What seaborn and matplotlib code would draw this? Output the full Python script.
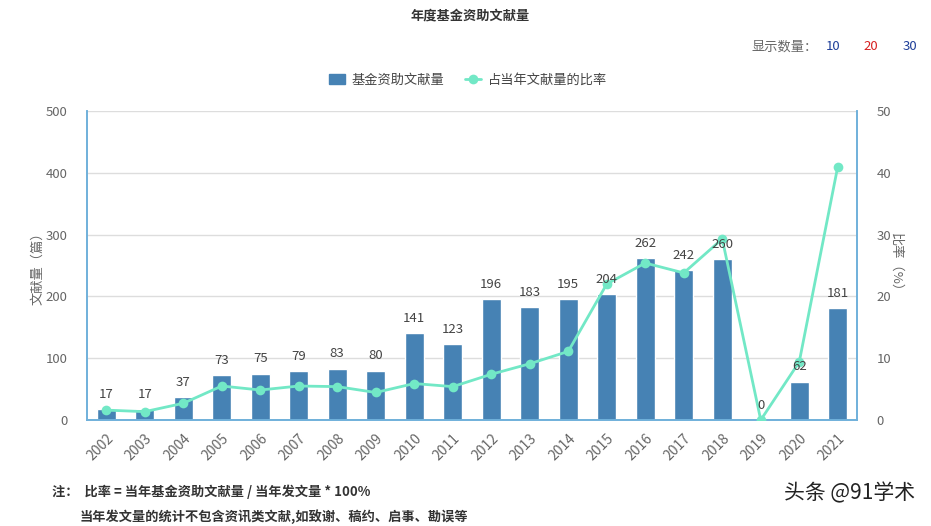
import numpy as np
import pandas as pd
import matplotlib
matplotlib.use("Agg")
import matplotlib.pyplot as plt
import seaborn as sns
from matplotlib.lines import Line2D
from matplotlib.patches import Patch

# 数据
years = [str(y) for y in range(2002, 2022)]
counts = [17, 17, 37, 73, 75, 79, 83, 80, 141, 123,
          196, 183, 195, 204, 262, 242, 260, 0, 62, 181]
ratios = [1.6, 1.35, 2.7, 5.5, 4.85, 5.5, 5.4, 4.45, 5.9, 5.4,
          7.4, 9.1, 11.1, 22.0, 25.4, 23.8, 29.3, 0.0, 9.4, 41.0]

# 颜色
COLOR_BAR = "#4682b4"
COLOR_LINE = "#72e8c6"
COLOR_AXIS = "#6fb0da"
COLOR_TEXT = "#666666"

sns.set_theme(style="white")
plt.rcParams["font.family"] = ["Noto Sans CJK SC", "DejaVu Sans"]

df = pd.DataFrame({"year": years, "count": counts, "ratio": ratios})
df["pos"] = np.arange(len(years))

fig = plt.figure(figsize=(9.31, 5.26), dpi=100)
ax = fig.add_axes([87 / 931, 1 - 420 / 526, 770 / 931, 309 / 526])

sns.barplot(data=df, x="year", y="count", color=COLOR_BAR, width=0.5,
            saturation=1, ax=ax, zorder=2)
ax.set_xlim(-0.5, len(years) - 0.5)
ax.set_ylim(0, 500)
ax.set_yticks(range(0, 501, 100))
ax.grid(axis="y", color="#dddddd", linewidth=1, zorder=0)
ax.set_axisbelow(True)

ax2 = ax.twinx()
sns.lineplot(data=df, x="pos", y="ratio", color=COLOR_LINE, linewidth=2,
             marker="o", markersize=7, markeredgewidth=0, ax=ax2, zorder=3)
ax2.set_ylim(0, 50)
ax2.set_yticks(range(0, 51, 10))
ax2.set_xlim(-0.5, len(years) - 0.5)

# 柱顶数值（画在折线之上）
for i, v in enumerate(counts):
    ax2.annotate(str(v), (i, v), xycoords=ax.transData, xytext=(0, 6),
                 textcoords="offset points", ha="center", va="bottom",
                 fontsize=9.5, color="#444444", zorder=4)

# 坐标轴样式
for a in (ax, ax2):
    a.spines["top"].set_visible(False)
    for side in ("left", "right", "bottom"):
        a.spines[side].set_color(COLOR_AXIS)
        a.spines[side].set_linewidth(1.2)

ax.set_xticks(range(len(years)))
ax.set_xticklabels(years, rotation=45, ha="right", rotation_mode="anchor",
                   fontsize=10, color=COLOR_TEXT)
ax.set_xticks(np.arange(-0.5, len(years), 1), minor=True)
ax.tick_params(axis="x", which="major", length=0, pad=8)
ax.tick_params(axis="x", which="minor", length=6, color=COLOR_AXIS, width=1)
ax.tick_params(axis="y", length=0, labelsize=9.5, labelcolor=COLOR_TEXT, pad=14)
ax2.tick_params(axis="y", length=0, labelsize=9.5, labelcolor=COLOR_TEXT, pad=14)
ax.set_xlabel("")
ax.set_ylabel("文献量（篇）", fontsize=9.5, color=COLOR_TEXT, labelpad=1)
ax2.set_ylabel("比率（%）", fontsize=9.5, color=COLOR_TEXT, rotation=-90,
               labelpad=8)

# 标题与图例
fig.text(470 / 931, 1 - 15 / 526, "年度基金资助文献量", ha="center", va="center",
         fontsize=9.5, color="#333333", fontweight="bold")
fig.text(752 / 931, 1 - 47 / 526, "显示数量：", ha="left", va="center",
         fontsize=9.5, color=COLOR_TEXT)
for x, t, c in [(833, "10", "#1f3f99"), (871, "20", "#d62020"), (910, "30", "#1f3f99")]:
    fig.text(x / 931, 1 - 47 / 526, t, ha="center", va="center", fontsize=9.5, color=c)

handles = [
    Patch(facecolor=COLOR_BAR, edgecolor=COLOR_BAR, label="基金资助文献量"),
    Line2D([0], [0], color=COLOR_LINE, linewidth=2, marker="o", markersize=7,
           markeredgewidth=0, label="占当年文献量的比率"),
]
fig.legend(handles=handles, loc="center", bbox_to_anchor=(468 / 931, 1 - 80 / 526),
           ncol=2, frameon=False, fontsize=9.5, handlelength=1.2,
           handletextpad=0.5, columnspacing=1.6, labelcolor="#444444")

# 注释
fig.text(52 / 931, 1 - 492 / 526, "注：  比率 = 当年基金资助文献量 / 当年发文量 * 100%",
         ha="left", va="center", fontsize=9.5, color="#333333", fontweight="bold")
fig.text(80 / 931, 1 - 517 / 526, "当年发文量的统计不包含资讯类文献,如致谢、稿约、启事、勘误等",
         ha="left", va="center", fontsize=9.5, color="#333333", fontweight="bold")
fig.text(915 / 931, 1 - 493 / 526, "头条 @91学术", ha="right", va="center",
         fontsize=15, color="#222222")

fig.savefig("out.png", dpi=100)
